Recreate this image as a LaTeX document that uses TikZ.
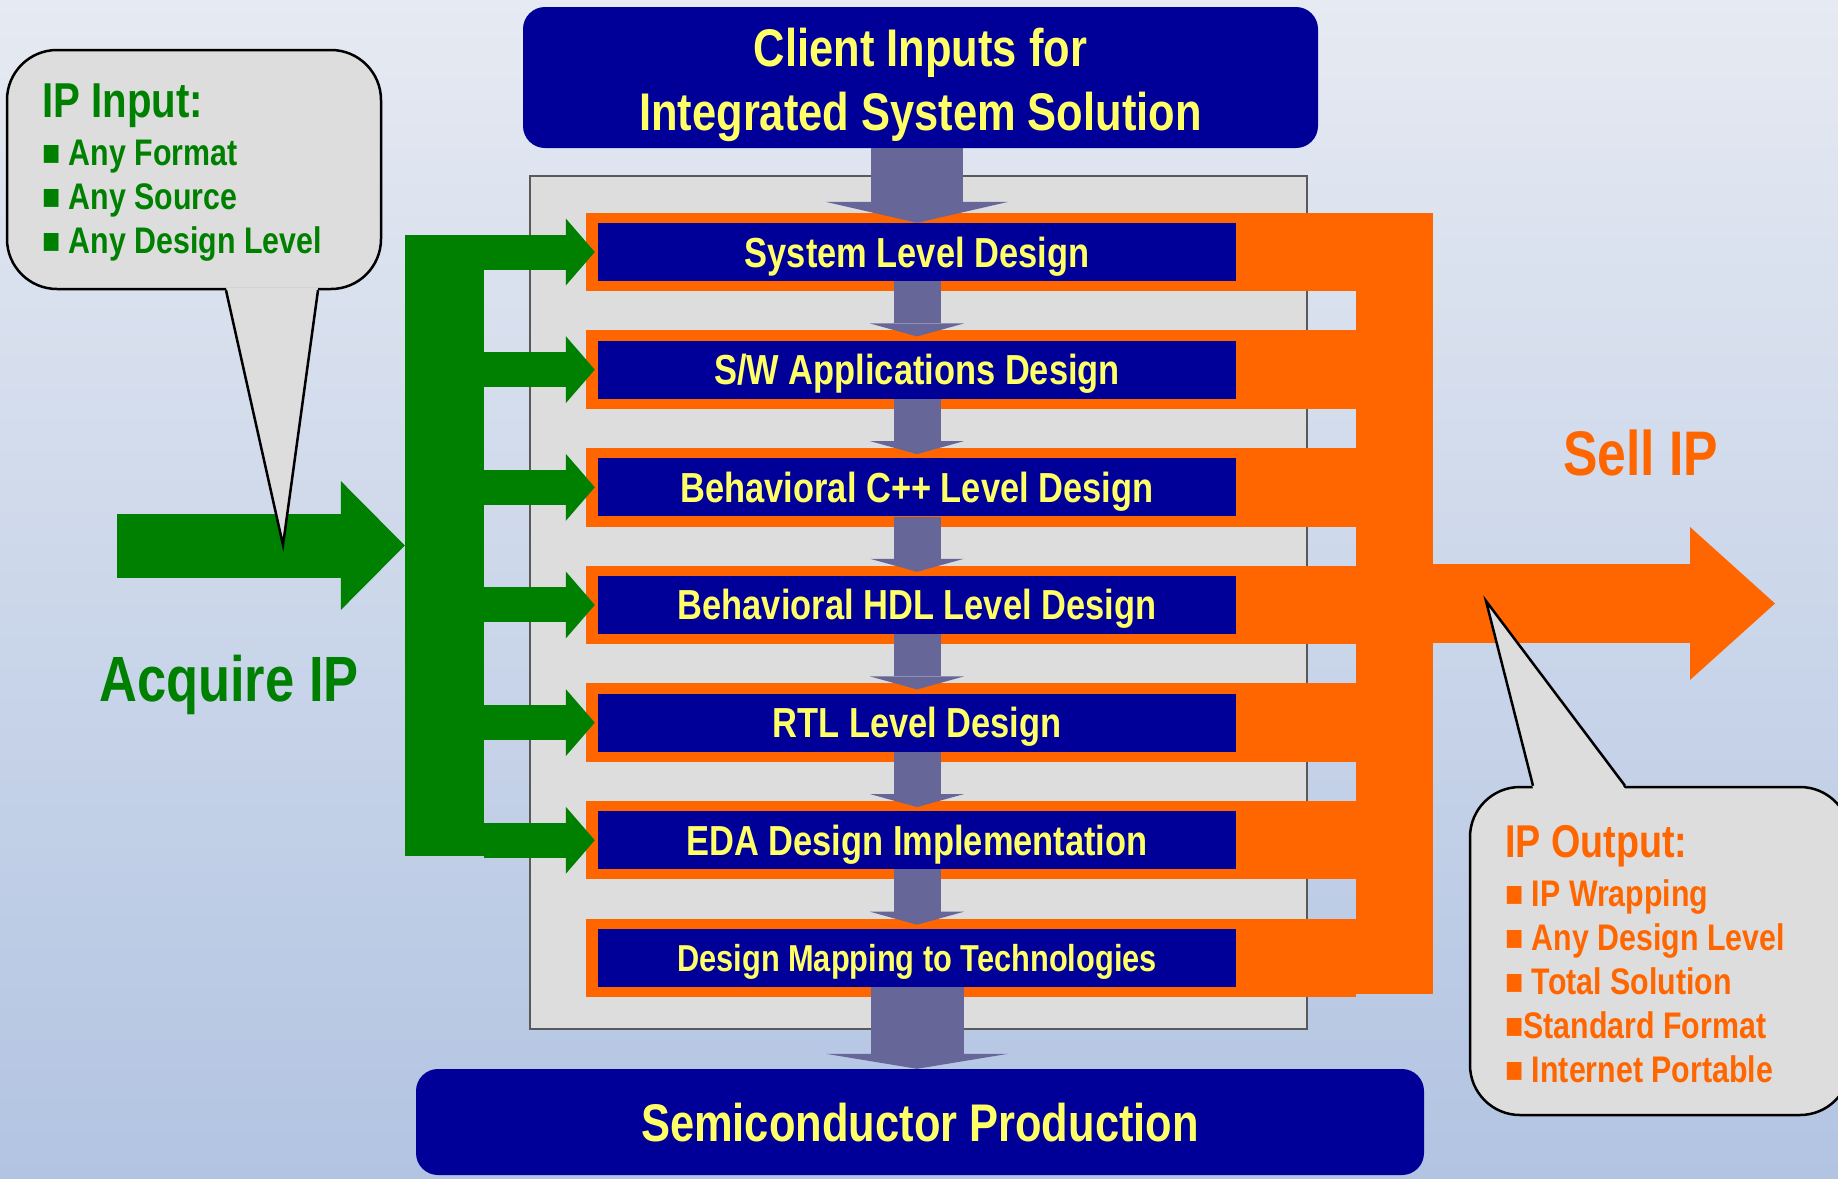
\documentclass[tikz,border=0pt]{standalone}
\usepackage{fontspec}
\setmainfont{Liberation Sans}[FakeStretch=0.82]
\usetikzlibrary{arrows.meta,positioning,calc,backgrounds}

\definecolor{ipblue}{RGB}{0,0,153}
\definecolor{ipyellow}{RGB}{255,255,102}
\definecolor{iporange}{RGB}{255,102,0}
\definecolor{ipgreen}{RGB}{0,128,0}
\definecolor{slate}{RGB}{102,102,153}
\definecolor{panelgray}{RGB}{221,221,221}
\definecolor{bgtop}{RGB}{230,234,242}
\definecolor{bgbottom}{RGB}{178,196,226}

\newcommand{\fsz}[1]{\fontsize{#1}{#1}\selectfont\bfseries}

\begin{document}
\begin{tikzpicture}[
  x=1pt, y=-1pt,
  stage/.style={fill=ipblue, text=ipyellow, minimum width=638pt, minimum height=58pt,
    inner sep=0pt, text height=30pt, text depth=0pt, font=\fsz{42}},
  header/.style={fill=ipblue, text=ipyellow, rounded corners=22pt, align=center, inner sep=0pt},
  label/.style={anchor=base west, inner sep=0pt},
  callout/.style={draw=black, fill=panelgray, line width=2.5pt, rounded corners=50pt},
  flowtop/.style={slate, line width=92pt, -{Triangle[width=183pt,length=21pt,line width=0pt]}},
  flow/.style={slate, line width=47pt, -{Triangle[width=94pt,length=13pt,line width=0pt]}},
  flowbot/.style={slate, line width=93pt, -{Triangle[width=182pt,length=15pt,line width=0pt]}},
  acquire/.style={ipgreen, line width=64pt, -{Triangle[width=129pt,length=64pt,line width=0pt]}},
  branch/.style={ipgreen, line width=35pt, -{Triangle[width=67pt,length=29pt,line width=0pt]}},
  sell/.style={iporange, line width=79pt, -{Triangle[width=153pt,length=85pt,line width=0pt]}},
  ]

\path[use as bounding box, clip] (0,0) rectangle (1838,1178);

% header and footer
\node[header, minimum width=795pt, minimum height=141pt] (client) at (920.5,77.5) {};
\node[text=ipyellow, align=center, inner sep=0pt, font=\fontsize{53}{64}\selectfont\bfseries]
  (clienttext) at ($(client.center)+(0,7)$) {Client Inputs for\\Integrated System Solution};
\node[header, minimum width=1008pt, minimum height=106pt, font=\fsz{53}, text height=38pt, text depth=0pt]
  (semicon) at (920,1122) {Semiconductor Production};

% design stages
\node[stage] (sysdes) at (917,252) {System Level Design};
\node[stage, below=59.25pt of sysdes] (swapp) {S/W Applications Design};
\node[stage, below=59.25pt of swapp] (behcpp) {Behavioral C++ Level Design};
\node[stage, below=59.25pt of behcpp] (behhdl) {Behavioral HDL Level Design};
\node[stage, below=59.25pt of behhdl] (rtl) {RTL Level Design};
\node[stage, below=59.25pt of rtl] (eda) {EDA Design Implementation};
\node[stage, below=59.25pt of eda, font=\fsz{37.5}, text height=27pt] (mapping) {Design Mapping to Technologies};

% orange collector and green distributor
\node[fill=iporange, minimum width=77pt, minimum height=781pt, inner sep=0pt] (obar) at (1394.5,603.5) {};
\node[fill=ipgreen, minimum width=79pt, minimum height=621pt, inner sep=0pt] (bus) at (444.5,545.5) {};

\begin{scope}[on background layer]
  \shade[top color=bgtop, bottom color=bgbottom] (0,0) rectangle (1838,1178);
  \node[fill=panelgray, draw=black!65, line width=1.5pt, minimum width=777pt, minimum height=853pt]
    (panel) at (918.5,602.5) {};
  \foreach \r in {sysdes,swapp,behcpp,behhdl,rtl,eda,mapping}
    \fill[iporange] ($(\r.north west)+(-12,-10)$) rectangle ($(obar.west |- \r.south)+(0,10)$);
\end{scope}

% design flow
\draw[flowtop] (sysdes.north |- client.south) -- (sysdes.north);
\foreach \a/\b in {sysdes/swapp,swapp/behcpp,behcpp/behhdl,behhdl/rtl,rtl/eda,eda/mapping}
  \draw[flow] (\a.south) -- ($(\b.north)+(0,-4)$);
\draw[flowbot] (mapping.south) -- (mapping.south |- semicon.north);

% acquire IP
\coordinate (acqstart) at (117,545.5);
\draw[acquire] (acqstart) -- (bus.west);
\foreach \r in {sysdes,swapp,behcpp,behhdl,rtl,eda}
  \draw[branch] (bus.east |- \r.west) -- ($(\r.west)+(-3,0)$);
\node[label, text=ipgreen, font=\fsz{64}] (acqlabel) at (99,701) {Acquire IP};

% sell IP
\coordinate (sellend) at (1775,603.5);
\draw[sell] (obar.east) -- (sellend);
\node[label, text=iporange, font=\fsz{63}] (selllabel) at (1563,475) {Sell IP};

% input callout
\node[callout, minimum width=374pt, minimum height=239pt] (ipinbox) at (194,169.5) {};
\coordinate (ipintip) at (283,545);
\fill[panelgray] ($(ipinbox.south)+(32,-3)$) -- (ipintip) -- ($(ipinbox.south)+(124,-3)$) -- cycle;
\draw[line width=2.5pt] ($(ipinbox.south)+(32,0)$) -- (ipintip) -- ($(ipinbox.south)+(124,0)$);
\node[label, text=ipgreen, font=\fsz{49}] (ipintitle) at (42,117) {IP Input:};
\foreach \t [count=\k] in {Any Format,Any Source,Any Design Level}
  \node[label, text=ipgreen, font=\fsz{37}] (ipin\k) at (42,{121+44*\k}) {■ \t};

% output callout
\node[callout, minimum width=380pt, minimum height=328pt] (ipoutbox) at (1660,951) {};
\coordinate (ipouttip) at (1486,601);
\fill[panelgray] ($(ipoutbox.north)+(-127,3)$) -- (ipouttip) -- ($(ipoutbox.north)+(-35,3)$) -- cycle;
\draw[line width=2.5pt] ($(ipoutbox.north)+(-127,0)$) -- (ipouttip) -- ($(ipoutbox.north)+(-35,0)$);
\node[label, text=iporange, font=\fsz{46}] (ipouttitle) at (1505,857) {IP Output:};
\foreach \t [count=\k] in {■ IP Wrapping,■ Any Design Level,■ Total Solution,■Standard Format,■ Internet Portable}
  \node[label, text=iporange, font=\fsz{37}] (ipout\k) at (1505,{862+44*\k}) {\t};

\end{tikzpicture}
\end{document}
